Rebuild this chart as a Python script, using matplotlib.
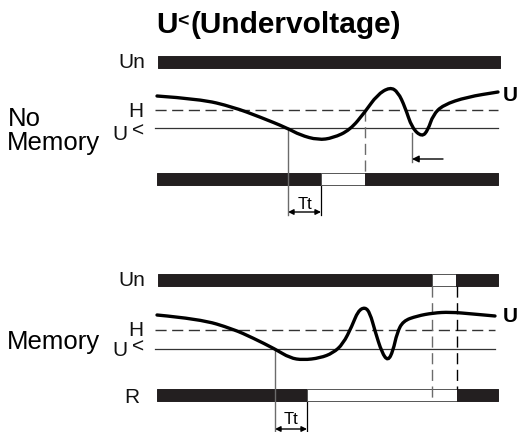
import matplotlib
matplotlib.use("Agg")
import matplotlib.pyplot as plt
from matplotlib.path import Path
from matplotlib.patches import PathPatch

plt.rcParams['font.family'] = ['Liberation Sans', 'DejaVu Sans']

# ---------------- data (diagram units: x = time, y = level, screen-like) ----
# No-memory voltage curve
nm_x = [157, 200, 233, 260, 287, 300, 318, 333, 350, 365, 377, 390, 398, 405,
        412, 422, 428, 433, 443, 467, 498]
nm_y = [96, 99, 107, 117, 128, 135, 140, 138, 130, 112, 95, 87, 92, 107,
        128, 137, 130, 115, 105, 97, 92]
# Memory voltage curve
m_x = [157, 200, 233, 253, 275, 290, 303, 320, 333, 343, 352, 358, 365, 370,
       375, 382, 388, 393, 397, 403, 417, 433, 450, 473, 495]
m_y = [315, 319, 329, 338, 349, 358, 360, 358, 353, 344, 326, 311, 307, 313,
       331, 353, 361, 351, 333, 321, 316, 313, 312, 314, 316]

# bar states: (start, length, on)
un1_segments = [(158, 342, True)]
relay1_segments = [(157, 164, True), (321, 44, False), (365, 133, True)]
un2_segments = [(158, 274, True), (432, 24, False), (456, 42, True)]
relay2_segments = [(157, 150, True), (307, 150, False), (457, 41, True)]

# thresholds
h1, ulow1 = 110, 128
h2, ulow2 = 330, 349

BLACK = '#231f20'
GRAY = '#6b6b6b'

fig = plt.figure(figsize=(5.21, 4.32), dpi=100)
ax = fig.add_axes([0, 0, 1, 1])
ax.set_xlim(0, 521)
ax.set_ylim(432, 0)
ax.axis('off')


def smooth_curve(xs, ys):
    pts = list(zip(xs, ys))
    verts = [pts[0]]
    codes = [Path.MOVETO]
    for i in range(1, len(pts) - 1):
        mid = ((pts[i][0] + pts[i + 1][0]) / 2, (pts[i][1] + pts[i + 1][1]) / 2)
        verts += [pts[i], mid]
        codes += [Path.CURVE3, Path.CURVE3]
    verts.append(pts[-1])
    codes.append(Path.LINETO)
    ax.add_patch(PathPatch(Path(verts, codes), fill=False, lw=2.4,
                           edgecolor='black', capstyle='round', zorder=5))


def bar(segments, y0, h):
    for start, length, on in segments:
        ax.broken_barh([(start, length)], (y0, h),
                       facecolors=BLACK if on else 'white',
                       edgecolors='#555555' if not on else BLACK,
                       linewidth=0.7, zorder=3)


# ---------------- No memory ----------------
bar(un1_segments, 56, 11.5)
ax.plot([155, 498], [h1, h1], color='#333333', lw=1.0, dashes=(8, 4))
ax.plot([155, 498], [ulow1, ulow1], color='#333333', lw=0.9)
smooth_curve(nm_x, nm_y)
bar(relay1_segments, 173, 11.5)
ax.plot([288, 288], [ulow1, 215], color=GRAY, lw=1.0, zorder=4)
ax.plot([365, 365], [h1, 173], color=GRAY, lw=1.0, dashes=(8, 4))
ax.plot([321, 321], [184, 215], color='black', lw=0.9)
ax.plot([412, 412], [133, 162], color=GRAY, lw=1.0)
ax.annotate('', xy=(412, 159), xytext=(443, 159),
            arrowprops=dict(arrowstyle='-|>', color='black', lw=1.0,
                            mutation_scale=10, shrinkA=0, shrinkB=0))
ax.annotate('', xy=(288, 212), xytext=(321, 212),
            arrowprops=dict(arrowstyle='<|-|>', color='black', lw=1.0,
                            mutation_scale=8, shrinkA=0, shrinkB=0))
ax.text(305, 209, 'Tt', fontsize=12, ha='center', va='baseline')

# ---------------- Memory ----------------
bar(un2_segments, 274, 12)
ax.plot([155, 495], [h2, h2], color='#333333', lw=1.0, dashes=(8, 4))
ax.plot([155, 495], [ulow2, ulow2], color='#333333', lw=0.9)
smooth_curve(m_x, m_y)
bar(relay2_segments, 389, 12)
ax.plot([275, 275], [ulow2, 432], color=GRAY, lw=1.0, zorder=4)
ax.plot([307, 307], [401, 432], color='black', lw=0.9)
ax.plot([432, 432], [286, 401], color=GRAY, lw=1.0, dashes=(8, 4), zorder=4)
ax.plot([457, 457], [286, 389], color='black', lw=1.0, dashes=(8, 4), zorder=4)
ax.annotate('', xy=(275, 429), xytext=(307, 429),
            arrowprops=dict(arrowstyle='<|-|>', color='black', lw=1.0,
                            mutation_scale=8, shrinkA=0, shrinkB=0))
ax.text(291, 424, 'Tt', fontsize=12, ha='center', va='baseline')

# ---------------- texts ----------------
ax.text(156, 33, 'U', fontsize=21.5, fontweight='bold', ha='left', va='baseline')
ax.text(177, 26, '<', fontsize=14, fontweight='bold', ha='left', va='baseline')
ax.text(191, 33, '(Undervoltage)', fontsize=21.5, fontweight='bold', ha='left',
        va='baseline')

lab = dict(fontsize=15, va='baseline', color='#111111')
ax.text(145, 68, 'Un', ha='right', **lab)
ax.text(143, 117, 'H', ha='right', **lab)
ax.text(127, 140, 'U', ha='right', **lab)
ax.text(144, 137, '<', ha='right', **lab)
ax.text(8, 126, 'No', fontsize=18.5, ha='left', va='baseline')
ax.text(7, 150, 'Memory', fontsize=18.5, ha='left', va='baseline')
ax.text(503, 101, 'U', fontsize=15, fontweight='bold', ha='left', va='baseline')

ax.text(145, 286, 'Un', ha='right', **lab)
ax.text(143, 336, 'H', ha='right', **lab)
ax.text(127, 356, 'U', ha='right', **lab)
ax.text(144, 353, '<', ha='right', **lab)
ax.text(7, 349, 'Memory', fontsize=18.5, ha='left', va='baseline')
ax.text(139, 403, 'R', ha='right', **lab)
ax.text(503, 322, 'U', fontsize=15, fontweight='bold', ha='left', va='baseline')

fig.savefig('out.png', dpi=100)
